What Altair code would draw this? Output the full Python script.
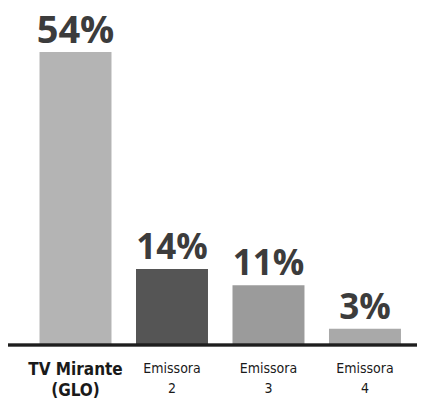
import altair as alt
import pandas as pd

canais = ["TV Mirante (GLO)", "Emissora 2", "Emissora 3", "Emissora 4"]
rotulos = ["TV Mirante\n(GLO)", "Emissora\n2", "Emissora\n3", "Emissora\n4"]
valores = [54, 14, 11, 3]
textos = ["54%", "14%", "11%", "3%"]
cores = ["#b4b4b4", "#555555", "#9b9b9b", "#a9a9a9"]

df = pd.DataFrame({"canal": canais, "rotulo": rotulos, "valor": valores, "texto": textos})

W = 407
H = 293
COND = "'Liberation Sans Narrow', 'DejaVu Sans Condensed', 'Arial Narrow', sans-serif"

x = alt.X("canal:N", sort=canais, axis=None,
          scale=alt.Scale(paddingInner=0.254, paddingOuter=0.236, align=0.648))
y = alt.Y("valor:Q", axis=None, scale=alt.Scale(domain=[0, 54], nice=False, zero=True))

base = alt.Chart(df).encode(x=x)
first = base.transform_filter("datum.valor > 50")
rest = base.transform_filter("datum.valor <= 50")

bars = base.mark_bar().encode(
    y=y,
    color=alt.Color("canal:N", scale=alt.Scale(domain=canais, range=cores), legend=None),
)

rule = alt.Chart(df).mark_rule(color="#1e1e1e", strokeWidth=2.5).encode(
    y=alt.value(H), x=alt.value(-2), x2=alt.value(W + 10)
)

pct1 = first.mark_text(baseline="alphabetic", dy=-9, font="Open Sans", fontWeight="bold",
                       color="#3c3c3c", fontSize=38).encode(y=y, text="texto:N")
pct2 = rest.mark_text(baseline="alphabetic", dy=-10, font="Open Sans", fontWeight="bold",
                      color="#3c3c3c", fontSize=35).encode(y=y, text="texto:N")

lab1 = first.mark_text(
    baseline="alphabetic", lineBreak="\n", font=COND, fontWeight="bold", fontSize=17,
    lineHeight=21, color="#1a1a1a", y=H + 30
).encode(text="rotulo:N")

lab2 = rest.mark_text(
    baseline="alphabetic", lineBreak="\n", font=COND, fontSize=14,
    lineHeight=20, color="#1a1a1a", y=H + 28
).encode(text="rotulo:N")

chart = alt.layer(bars, rule, pct1, pct2, lab1, lab2).properties(
    width=W, height=H,
    autosize=alt.AutoSizeParams(type="none"),
    padding={"left": 2, "top": 44, "right": 0, "bottom": 55},
    background="white",
).configure_view(stroke=None)

chart.save("out.html", embed_options={"renderer": "svg", "actions": False})
